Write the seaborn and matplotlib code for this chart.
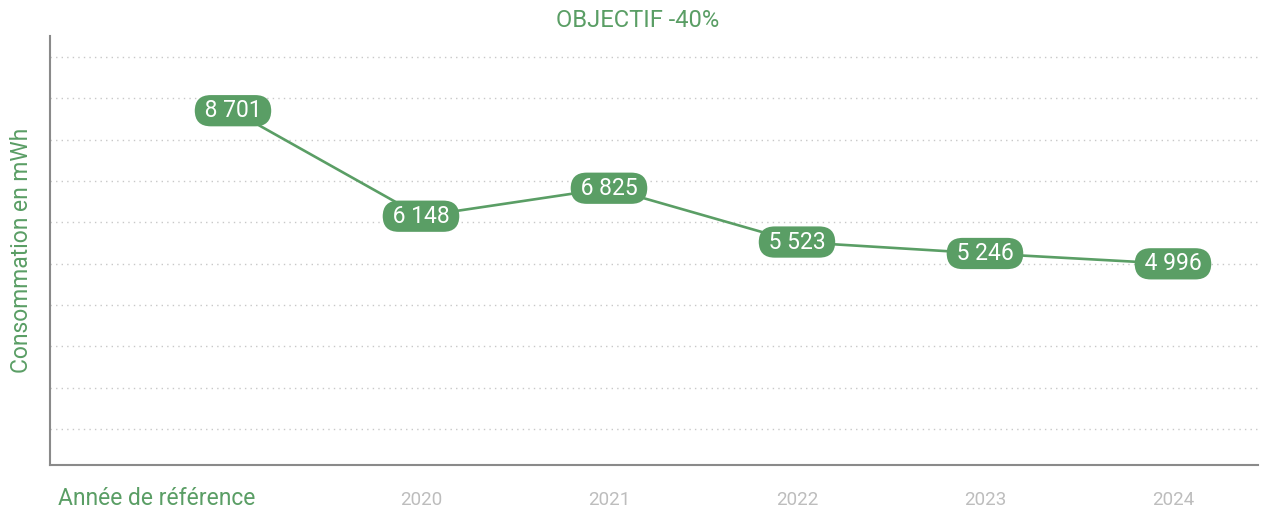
import matplotlib
matplotlib.use("Agg")
import matplotlib.pyplot as plt
import matplotlib.transforms as mtransforms
import seaborn as sns
import pandas as pd

# données
annees = ["Année de référence", "2020", "2021", "2022", "2023", "2024"]
consommation = [8701, 6148, 6825, 5523, 5246, 4996]
titre = "OBJECTIF -40%"
ylabel = "Consommation en mWh"

VERT = "#5a9e65"
GRIS = "#bdbdbd"

sns.set_theme(style="white")
plt.rcParams["font.family"] = ["Roboto", "DejaVu Sans"]

df = pd.DataFrame({"pos": range(len(annees)), "conso": consommation})

fig = plt.figure(figsize=(12.63, 5.11), dpi=100)
ax = fig.add_axes([0.0392, 0.090, 0.9568, 0.8395])

sns.lineplot(data=df, x="pos", y="conso", color=VERT, linewidth=1.9, ax=ax, zorder=3)

for x, v in zip(df["pos"], df["conso"]):
    txt = " " + f"{v:,}".replace(",", " ") + " "
    ax.text(x, v, txt, ha="center", va="center", color="white", fontsize=16.5, zorder=4,
            bbox=dict(boxstyle="round,pad=0.18,rounding_size=0.7", fc=VERT, ec="none"))

ax.set_xlim(-0.976, 5.452)
ax.set_ylim(128, 10508)
ax.set_yticks(range(1000, 10001, 1000))
ax.tick_params(axis="y", left=False, labelleft=False)
ax.grid(axis="y", color="#c8c8c8", linestyle=(0, (1, 3)), linewidth=1)
ax.grid(axis="x", visible=False)

ax.set_xticks(range(len(annees)))
ax.set_xticklabels(annees)
ax.tick_params(axis="x", bottom=False, pad=13, labelsize=13.5, labelcolor=GRIS)
# le premier libellé est plus grand, vert et décalé à gauche
first = ax.get_xticklabels()[0]
first.set_color(VERT)
first.set_fontsize(16.5)
first.set_transform(first.get_transform() + mtransforms.ScaledTranslation(-0.76, 0.04, fig.dpi_scale_trans))

ax.set_xlabel("")
ax.set_ylabel(ylabel, color=VERT, fontsize=16.5, labelpad=12)

for s in ["top", "right"]:
    ax.spines[s].set_visible(False)
for s in ["left", "bottom"]:
    ax.spines[s].set_color("#8a8a8a")
    ax.spines[s].set_linewidth(1.5)

fig.text(0.505, 0.96, titre, ha="center", va="center", color=VERT, fontsize=17)

fig.savefig("out.png", dpi=100)
